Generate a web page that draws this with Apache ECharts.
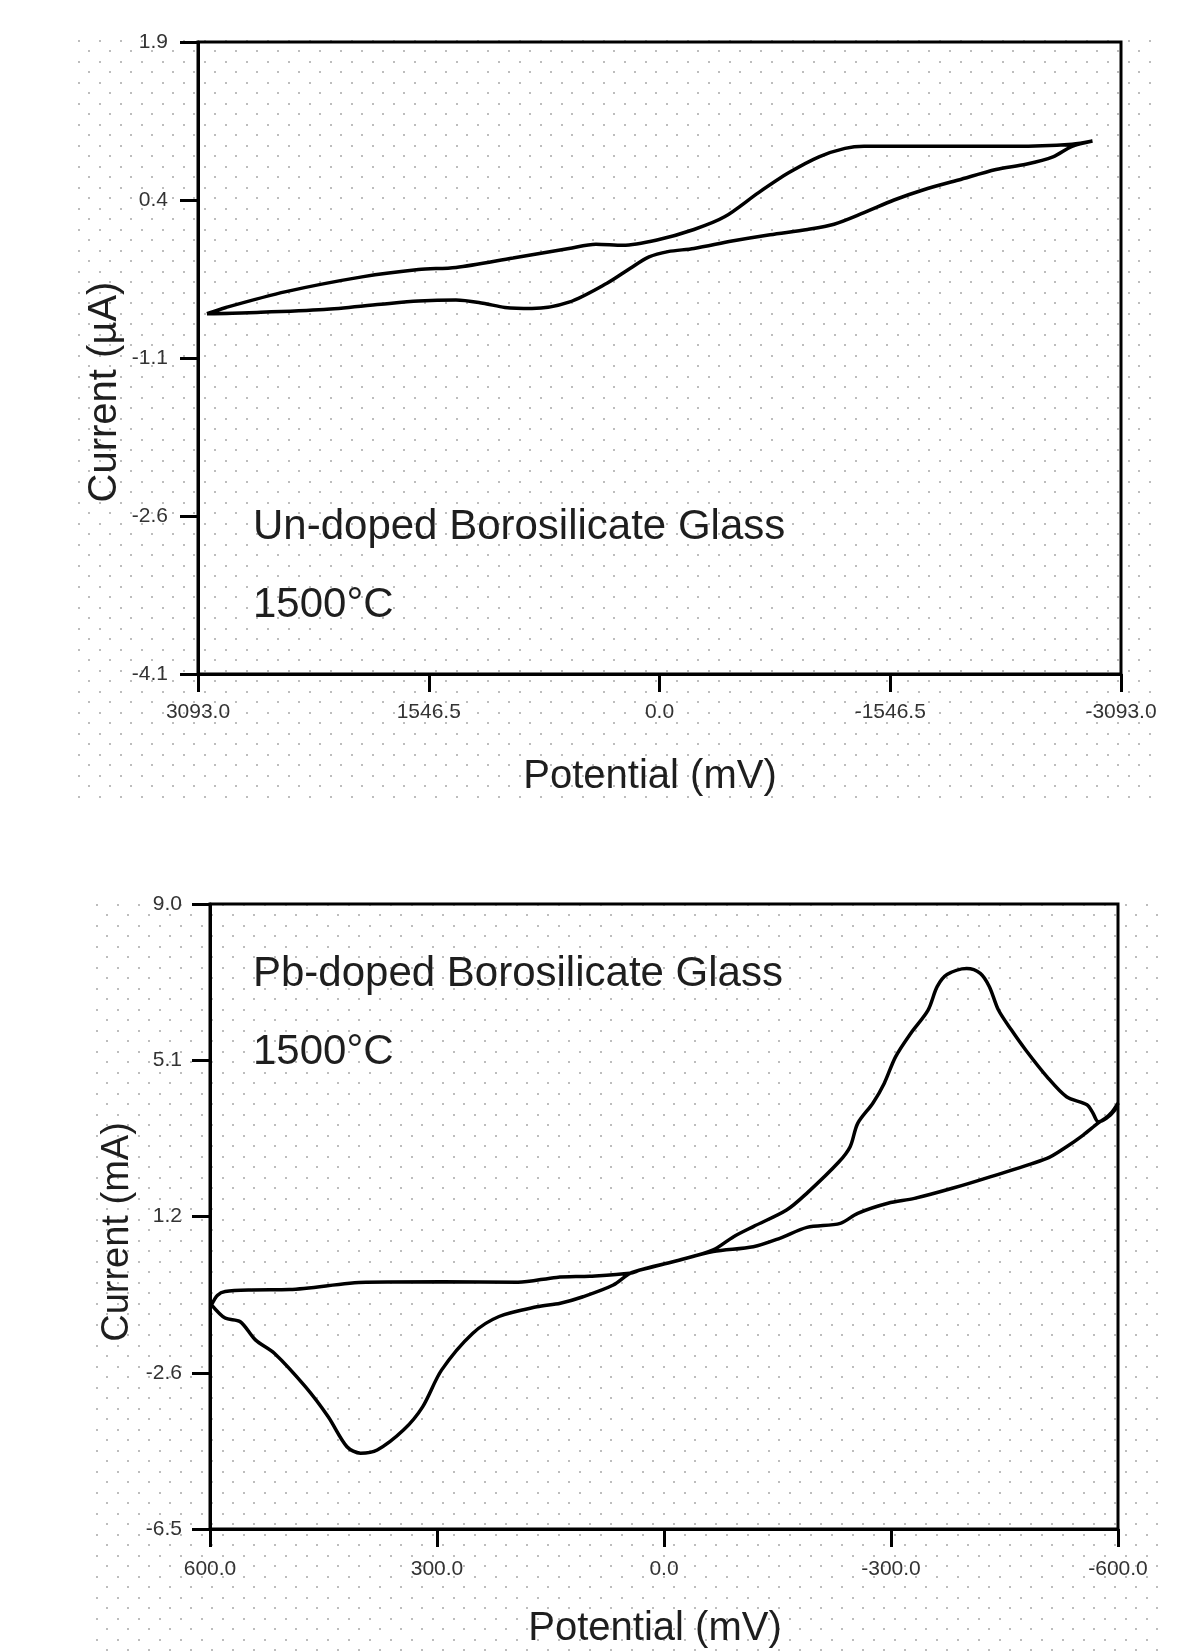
<!DOCTYPE html>
<html>
<head>
<meta charset="utf-8">
<title>Cyclic voltammograms</title>
<script src="https://cdn.jsdelivr.net/npm/echarts@6/dist/echarts.min.js"></script>
<style>
  html, body { margin: 0; padding: 0; background: #fff; }
  #chart { width: 1189px; height: 1652px; }
</style>
</head>
<body>
<div id="chart"></div>
<script>
// un-doped glass, loop traced from the left turning point (mV, µA)
const topPotential = [3033, 2905, 2503, 1994, 1615, 1364, 982, 607, 426, 245, 17, -231, -436, -664, -868, -1069, -1243, -1371, -1880, -2383, -2765, -2902,
  -2765, -2637, -2456, -2255, -2004, -1776, -1572, -1371, -1170, -992, -741, -486, -231, -57, 70, 198, 352, 607, 855, 1036, 1183, 1364, 1615, 1867, 2249, 2751, 3033];
const topCurrent = [-0.68, -0.62, -0.47, -0.33, -0.26, -0.24, -0.15, -0.06, -0.02, -0.03, 0.02, 0.12, 0.24, 0.47, 0.66, 0.81, 0.89, 0.91, 0.91, 0.91, 0.93, 0.96,
  0.91, 0.81, 0.74, 0.69, 0.59, 0.50, 0.40, 0.28, 0.17, 0.12, 0.07, 0.01, -0.06, -0.09, -0.14, -0.25, -0.39, -0.57, -0.63, -0.62, -0.58, -0.55, -0.56, -0.59, -0.64, -0.67, -0.68];

// Pb-doped glass (mV, mA)
const pbPotential = [598, 580, 560, 540, 515, 474, 444, 419, 401, 379, 344, 319, 294, 253, 218, 168, 137, 107, 67, 45, 23, -21, -65, -92, -118, -162, -189, -231, -246, -256, -276, -291, -306, -326, -349, -361, -374, -400, -418, -430, -442, -459, -478, -506, -532, -559, -567, -574, -585, -596, -600,
  -592, -582, -574, -554, -532, -506, -432, -381, -331, -296, -256, -233, -189, -153, -118, -65, -12, 32, 45, 98, 142, 193, 293, 394, 495, 545, 580, 590, 598];
const pbCurrent = [-0.94, -1.27, -1.36, -1.81, -2.14, -2.97, -3.71, -4.46, -4.62, -4.54, -4.04, -3.47, -2.56, -1.65, -1.23, -0.99, -0.90, -0.74, -0.45, -0.16, -0.03, 0.17, 0.42, 0.75, 1.00, 1.41, 1.83, 2.60, 2.98, 3.56, 4.06, 4.55, 5.21, 5.79, 6.37, 6.95, 7.25, 7.40, 7.28, 6.95, 6.37, 5.88, 5.38, 4.72, 4.22, 4.02, 3.81, 3.60, 3.69, 3.89, 4.06,
  3.84, 3.67, 3.57, 3.27, 2.98, 2.69, 2.24, 1.95, 1.70, 1.58, 1.33, 1.08, 0.98, 0.71, 0.50, 0.38, 0.13, -0.08, -0.16, -0.23, -0.26, -0.38, -0.37, -0.38, -0.56, -0.57, -0.61, -0.70, -0.94];

// ticks
const topXTicks = [3093, 1546.5, 0, -1546.5, -3093];
const topXLabels = ["3093.0", "1546.5", "0.0", "-1546.5", "-3093.0"];
const topYTicks = [1.9, 0.4, -1.1, -2.6, -4.1];
const topYLabels = ["1.9", "0.4", "-1.1", "-2.6", "-4.1"];
const pbXTicks = [600, 300, 0, -300, -600];
const pbXLabels = ["600.0", "300.0", "0.0", "-300.0", "-600.0"];
const pbYTicks = [9, 5.125, 1.25, -2.625, -6.5];
const pbYLabels = ["9.0", "5.1", "1.2", "-2.6", "-6.5"];

function pairs(xs, ys) {
  return xs.map(function (x, i) { return [x, ys[i]]; });
}
function labelFor(ticks, labels) {
  return function (v) {
    let best = 0;
    for (let i = 1; i < ticks.length; i++) {
      if (Math.abs(ticks[i] - v) < Math.abs(ticks[best] - v)) best = i;
    }
    return labels[best];
  };
}

// dotted paper background
const dotTile = document.createElement("canvas");
dotTile.width = 21;
dotTile.height = 21;
const dctx = dotTile.getContext("2d");
dctx.fillStyle = "#bdbdbd";
dctx.fillRect(4, 4, 2, 2);
dctx.fillRect(14, 14, 2, 2);
const dots = { image: dotTile, repeat: "repeat" };

const FONT = '"Liberation Sans", Arial, sans-serif';
const black = "#000";

function makeX(grid, min, max, ticks, labels, margin) {
  return {
    type: "value",
    gridIndex: grid,
    min: min,
    max: max,
    inverse: true,
    axisLine: { show: true, onZero: false, lineStyle: { color: black, width: 3 } },
    axisTick: { show: true, length: 18, customValues: ticks, lineStyle: { color: black, width: 3 } },
    axisLabel: {
      customValues: ticks,
      formatter: labelFor(ticks, labels),
      margin: margin,
      color: "#333",
      fontSize: 21,
      fontFamily: FONT,
    },
    splitLine: { show: false },
  };
}
function makeY(grid, min, max, ticks, labels, margin) {
  return {
    type: "value",
    gridIndex: grid,
    min: min,
    max: max,
    axisLine: { show: true, onZero: false, lineStyle: { color: black, width: 3 } },
    axisTick: { show: true, length: 18, customValues: ticks, lineStyle: { color: black, width: 3 } },
    axisLabel: {
      customValues: ticks,
      formatter: labelFor(ticks, labels),
      margin: margin,
      color: "#333",
      fontSize: 21,
      fontFamily: FONT,
    },
    splitLine: { show: false },
  };
}
function txt(x, y, text, size, rot, align) {
  return {
    type: "text",
    x: x,
    y: y,
    rotation: rot || 0,
    silent: true,
    z: 5,
    style: {
      text: text,
      fontSize: size,
      fontFamily: FONT,
      fill: "#1e1e1e",
      align: align || "center",
      verticalAlign: "middle",
    },
  };
}

const myChart = echarts.init(document.getElementById("chart"));
const option = {
  animation: false,
  backgroundColor: "#fff",
  grid: [
    { left: 198, top: 42, width: 923, height: 632, show: true, borderColor: black, borderWidth: 3, backgroundColor: "transparent" },
    { left: 210, top: 904, width: 908, height: 625, show: true, borderColor: black, borderWidth: 3, backgroundColor: "transparent" },
  ],
  xAxis: [
    makeX(0, -3093, 3093, topXTicks, topXLabels, 28),
    makeX(1, -600, 600, pbXTicks, pbXLabels, 30),
  ],
  yAxis: [
    makeY(0, -4.1, 1.9, topYTicks, topYLabels, 30),
    makeY(1, -6.5, 9, pbYTicks, pbYLabels, 28),
  ],
  graphic: [
    { type: "rect", x: 74, y: 36, shape: { width: 1084, height: 764 }, style: { fill: dots }, z: -10, silent: true },
    { type: "rect", x: 92, y: 900, shape: { width: 1066, height: 752 }, style: { fill: dots }, z: -10, silent: true },
    txt(105, 392, "Current (µA)", 40, Math.PI / 2),
    txt(650, 777, "Potential (mV)", 40),
    txt(253, 527, "Un-doped Borosilicate Glass", 42, 0, "left"),
    txt(253, 605, "1500°C", 42, 0, "left"),
    txt(118, 1232, "Current (mA)", 38, Math.PI / 2),
    txt(655, 1629, "Potential (mV)", 40),
    txt(253, 974, "Pb-doped Borosilicate Glass", 42, 0, "left"),
    txt(253, 1052, "1500°C", 42, 0, "left"),
  ],
  series: [
    {
      name: "Un-doped",
      type: "line",
      xAxisIndex: 0,
      yAxisIndex: 0,
      data: pairs(topPotential, topCurrent),
      symbol: "none",
      smooth: 0.3,
      lineStyle: { color: black, width: 3.5 },
    },
    {
      name: "Pb-doped",
      type: "line",
      xAxisIndex: 1,
      yAxisIndex: 1,
      data: pairs(pbPotential, pbCurrent),
      symbol: "none",
      smooth: 0.3,
      lineStyle: { color: black, width: 3.5 },
    },
  ],
};
myChart.setOption(option);
</script>
</body>
</html>
